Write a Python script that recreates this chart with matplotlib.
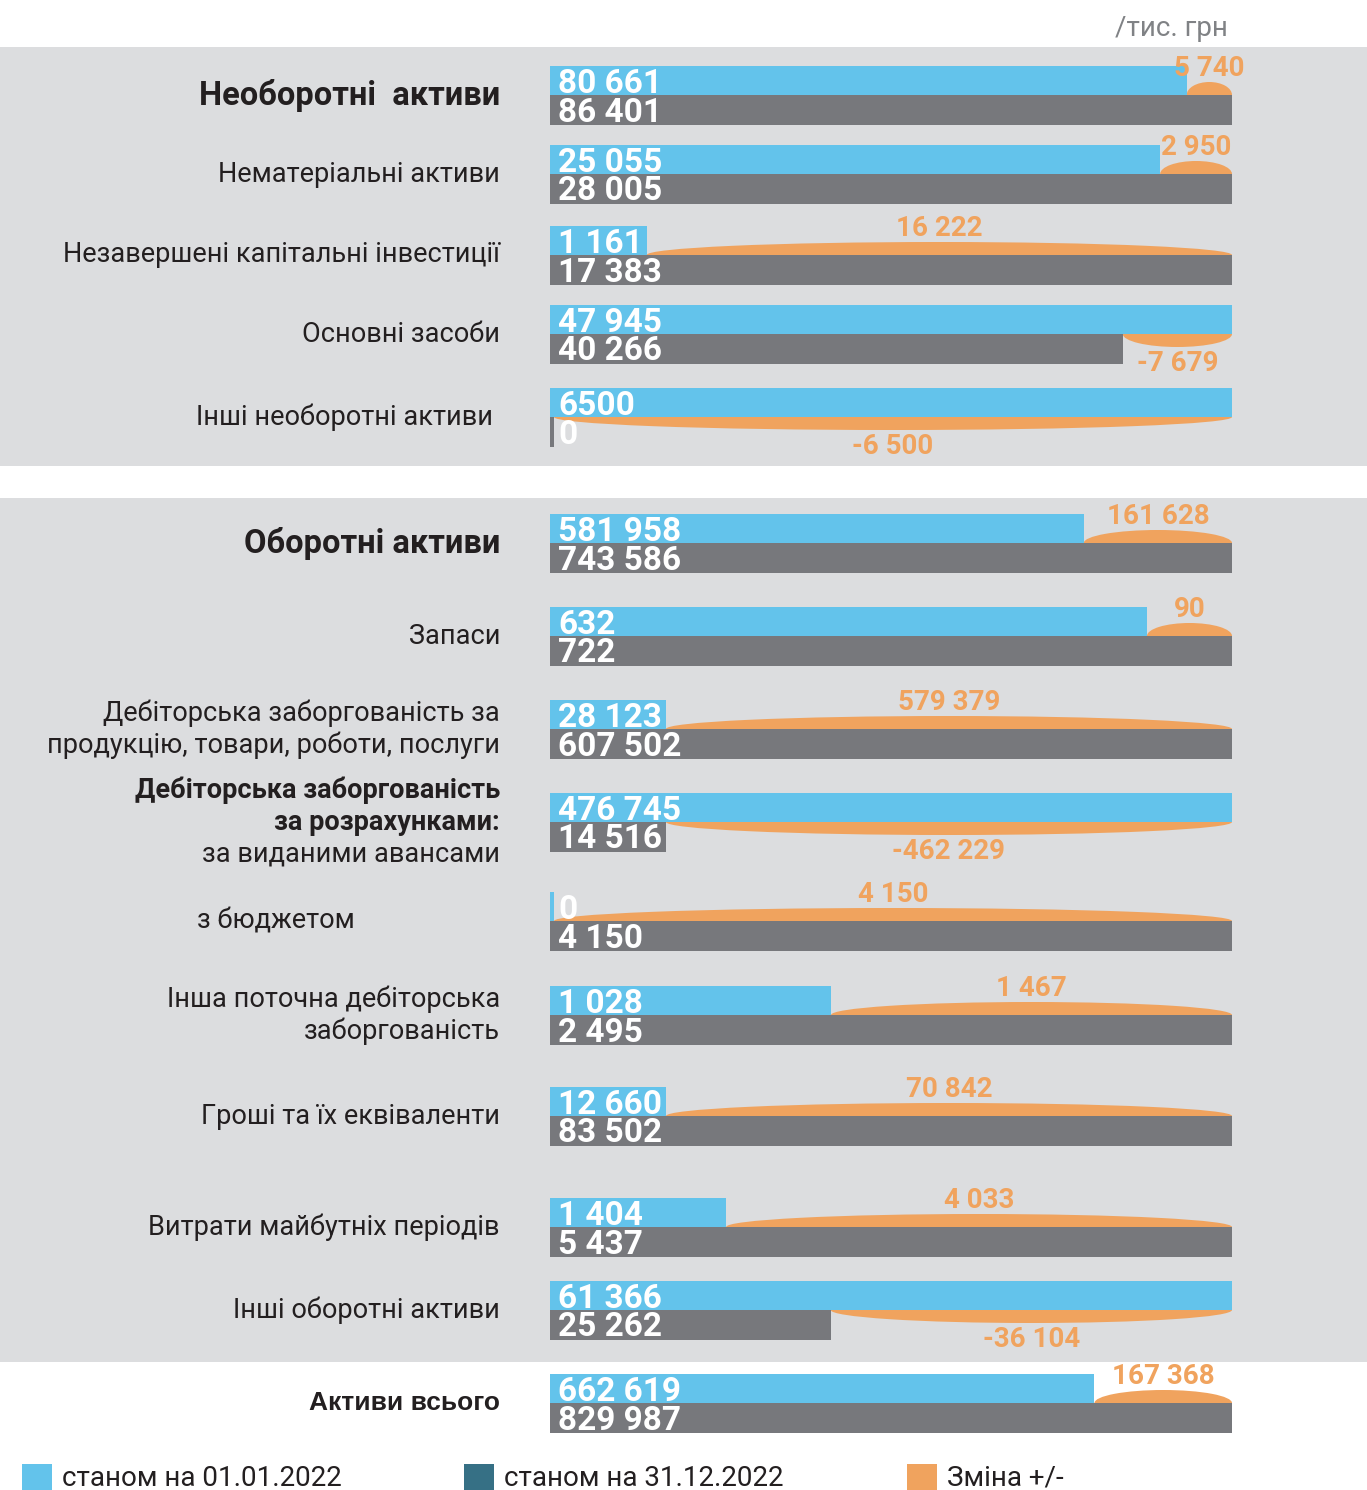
import matplotlib
matplotlib.use("Agg")
import matplotlib.pyplot as plt
from matplotlib.patches import Rectangle, Ellipse

# ---------------- data ----------------
categories = [
    "Необоротні  активи",
    "Нематеріальні активи",
    "Незавершені капітальні інвестиції",
    "Основні засоби",
    "Інші необоротні активи ",
    "Оборотні активи",
    "Запаси",
    "Дебіторська заборгованість за\nпродукцію, товари, роботи, послуги",
    "Дебіторська заборгованість\nза розрахунками:\nза виданими авансами",
    "з бюджетом",
    "Інша поточна дебіторська\nзаборгованість",
    "Гроші та їх еквіваленти",
    "Витрати майбутніх періодів",
    "Інші оборотні активи",
    "Активи всього",
]
start_2022 = [80661, 25055, 1161, 47945, 6500, 581958, 632, 28123, 476745, 0,
              1028, 12660, 1404, 61366, 662619]
end_2022 = [86401, 28005, 17383, 40266, 0, 743586, 722, 607502, 14516, 4150,
            2495, 83502, 5437, 25262, 829987]
start_labels = ["80 661", "25 055", "1 161", "47 945", "6500", "581 958", "632",
                "28 123", "476 745", "0", "1 028", "12 660", "1 404", "61 366",
                "662 619"]
legend_labels = ["станом на 01.01.2022", "станом на 31.12.2022", "Зміна +/-"]
unit_label = "/тис. грн"

# label style per row: 'head' (big bold), 'reg', 'total'; bold leading lines for mixed row
label_style = ["head", "reg", "reg", "reg", "reg", "head", "reg", "reg", "reg",
               "reg", "reg", "reg", "reg", "reg", "total"]
bold_lines = [0, 0, 0, 0, 0, 0, 0, 0, 2, 0, 0, 0, 0, 0, 0]

# ---------------- layout ----------------
W_PX, H_PX = 1367, 1490
row_center = [95, 174, 255, 334, 417, 543, 636, 729, 822, 921, 1015, 1116,
              1227, 1310, 1403]
BAR_H = 29.5
X0 = 550
FULL_W = 682
LABEL_RIGHT = 500

BLUE = "#63c3eb"
GREY = "#77787c"
ORANGE = "#f0a35e"
TEAL = "#367085"
PANEL = "#dcdddf"
DARK = "#231f20"
UNIT_C = "#808285"


def fmt(v):
    s = f"{abs(v):,}".replace(",", " ")
    return ("-" if v < 0 else "") + s


fig = plt.figure(figsize=(W_PX / 100, H_PX / 100), dpi=100)
ax = fig.add_axes([0, 0, 1, 1])
ax.set_xlim(0, W_PX)
ax.set_ylim(H_PX, 0)
ax.axis("off")
renderer = fig.canvas.get_renderer()

# panels
ax.add_patch(Rectangle((0, 47), W_PX, 419, color=PANEL, zorder=0, lw=0))
ax.add_patch(Rectangle((0, 498), W_PX, 864, color=PANEL, zorder=0, lw=0))

ax.text(1228, 28, unit_label, ha="right", va="center", fontsize=20,
        family="Roboto", color=UNIT_C)

NUM_FONT = dict(family="Roboto", fontweight="bold", fontsize=24, color="white")
CHG_FONT = dict(family="Roboto", fontweight="semibold", fontsize=20, color=ORANGE)

for i, cat in enumerate(categories):
    yc = row_center[i]
    s, e = start_2022[i], end_2022[i]
    mx = max(s, e)
    # value labels first (to know their widths)
    ts = ax.text(X0 + 8, yc - 2, start_labels[i], ha="left",
                 va="baseline", zorder=4, **NUM_FONT)
    te = ax.text(X0 + 8, yc + BAR_H - 3, fmt(e), ha="left",
                 va="baseline", zorder=4, **NUM_FONT)
    ws_lab = ts.get_window_extent(renderer).width
    we_lab = te.get_window_extent(renderer).width
    ws = s / mx * FULL_W
    we = e / mx * FULL_W
    ws = max(ws, ws_lab + 12) if s > 0 else 4
    we = max(we, we_lab + 12) if e > 0 else 4
    ax.add_patch(Rectangle((X0, yc - BAR_H), ws, BAR_H, color=BLUE, lw=0, zorder=2))
    ax.add_patch(Rectangle((X0, yc), we, BAR_H, color=GREY, lw=0, zorder=2))
    # change
    ch = e - s
    a, b = sorted([X0 + ws, X0 + we])
    ax.add_patch(Ellipse(((a + b) / 2, yc), b - a, 26, color=ORANGE, lw=0, zorder=1))
    if ch > 0:
        ax.text((a + b) / 2, yc - BAR_H + 3, fmt(ch), ha="center", va="center",
                zorder=4, **CHG_FONT)
    else:
        ax.text((a + b) / 2, yc + BAR_H, fmt(ch), ha="center", va="center",
                zorder=4, **CHG_FONT)

    # category labels
    lines = cat.split("\n")
    n = len(lines)
    for k, line in enumerate(lines):
        ly = yc + (k - (n - 1) / 2) * 32
        st = label_style[i]
        if st == "head":
            kw = dict(family="Roboto", fontweight="bold", fontsize=23.5)
        elif st == "total":
            kw = dict(family="Liberation Sans", fontweight="bold", fontsize=19)
        else:
            kw = dict(family="Roboto", fontweight="bold" if k < bold_lines[i] else "normal",
                      fontsize=19.5)
        if i == 9:
            ax.text(197, ly, line, ha="left", va="center", color=DARK, **kw)
        else:
            ax.text(LABEL_RIGHT, ly, line, ha="right", va="center", color=DARK, **kw)

# legend
for x, c, lab in zip([22, 464, 907], [BLUE, TEAL, ORANGE], legend_labels):
    ax.add_patch(Rectangle((x, 1464), 30, 27, color=c, lw=0, zorder=2))
    ax.text(x + 40, 1478, lab, ha="left", va="center", fontsize=20,
            family="Roboto", color=DARK)

fig.savefig("out.png", dpi=100)
